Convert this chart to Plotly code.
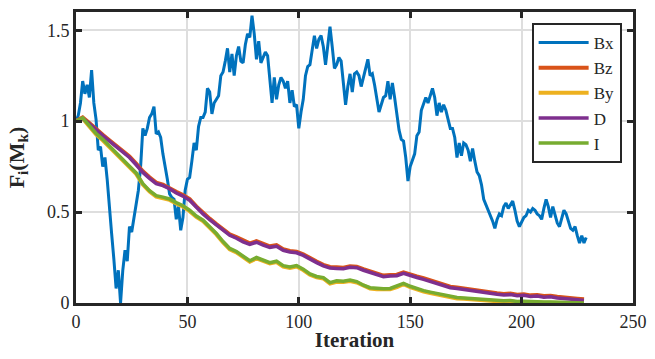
import plotly.graph_objects as go

# Bx, one value per iteration 0..229
it_bx = list(range(230))
bx = [1.00, 1.03, 1.10, 1.22, 1.15, 1.20, 1.13, 1.28, 1.10, 1.01,
      0.84, 0.86, 0.75, 0.80, 0.68, 0.55, 0.38, 0.24, 0.08, 0.18,
      0.00, 0.18, 0.29, 0.23, 0.42, 0.39, 0.47, 0.53, 0.62, 0.75,
      0.96, 0.92, 0.96, 1.02, 1.04, 1.08, 0.93, 0.94, 0.91, 0.82,
      0.76, 0.68, 0.60, 0.58, 0.57, 0.46, 0.53, 0.40, 0.47, 0.62,
      0.68, 0.69, 0.78, 0.88, 0.84, 0.97, 1.02, 1.02, 1.05, 1.18,
      1.16, 1.04, 1.10, 1.12, 1.14, 1.25, 1.27, 1.33, 1.40, 1.27,
      1.37, 1.25, 1.36, 1.41, 1.33, 1.32, 1.42, 1.48, 1.46, 1.58,
      1.48, 1.34, 1.44, 1.32, 1.35, 1.38, 1.36, 1.21, 1.10, 1.24,
      1.12, 1.20, 1.24, 1.22, 1.18, 1.22, 1.10, 1.17, 1.08, 1.09,
      0.96, 1.05, 1.12, 1.25, 1.30, 1.31, 1.39, 1.47, 1.40, 1.45,
      1.47, 1.41, 1.31, 1.43, 1.52, 1.41, 1.29, 1.31, 1.35, 1.33,
      1.20, 1.09, 1.19, 1.26, 1.16, 1.26, 1.27, 1.25, 1.19, 1.24,
      1.30, 1.34, 1.25, 1.26, 1.20, 1.12, 1.05, 1.09, 1.13, 1.14,
      1.22, 1.12, 1.21, 1.13, 1.04, 0.95, 0.90, 0.89, 0.80, 0.67,
      0.75, 0.79, 0.82, 0.92, 0.94, 1.06, 1.10, 1.13, 1.10, 1.14,
      1.18, 1.13, 1.03, 1.10, 1.05, 1.09, 1.06, 1.01, 0.96, 0.96,
      0.91, 0.80, 0.88, 0.81, 0.88, 0.87, 0.84, 0.78, 0.85, 0.78,
      0.72, 0.70, 0.65, 0.57, 0.54, 0.52, 0.49, 0.45, 0.41, 0.46,
      0.49, 0.48, 0.53, 0.55, 0.52, 0.54, 0.56, 0.51, 0.45, 0.42,
      0.45, 0.47, 0.48, 0.51, 0.50, 0.52, 0.51, 0.49, 0.48, 0.46,
      0.52, 0.57, 0.53, 0.47, 0.53, 0.49, 0.44, 0.42, 0.47, 0.51,
      0.49, 0.45, 0.41, 0.40, 0.42, 0.37, 0.33, 0.37, 0.33, 0.36]

# smooth series, every 3rd iteration
it_s = list(range(0, 229, 3))
d = [1.000, 1.015, 0.985, 0.950, 0.920, 0.890, 0.862, 0.830, 0.800, 0.760,
     0.718, 0.685, 0.656, 0.645, 0.628, 0.605, 0.588, 0.565, 0.525, 0.490,
     0.458, 0.428, 0.398, 0.372, 0.356, 0.336, 0.322, 0.334, 0.318, 0.306,
     0.312, 0.290, 0.280, 0.276, 0.262, 0.240, 0.222, 0.204, 0.192, 0.190,
     0.188, 0.196, 0.194, 0.180, 0.168, 0.152, 0.145, 0.148, 0.150, 0.163,
     0.150, 0.140, 0.130, 0.118, 0.108, 0.096, 0.084, 0.080, 0.074, 0.070,
     0.064, 0.056, 0.052, 0.048, 0.044, 0.046, 0.040, 0.042, 0.036, 0.038,
     0.032, 0.034, 0.028, 0.026, 0.022, 0.018, 0.014]
bz = [1.000, 1.020, 0.990, 0.955, 0.925, 0.895, 0.867, 0.836, 0.806, 0.766,
      0.724, 0.691, 0.662, 0.651, 0.634, 0.611, 0.594, 0.571, 0.531, 0.496,
      0.464, 0.434, 0.404, 0.378, 0.362, 0.342, 0.328, 0.340, 0.324, 0.312,
      0.318, 0.296, 0.286, 0.282, 0.268, 0.246, 0.228, 0.210, 0.198, 0.196,
      0.194, 0.202, 0.200, 0.186, 0.174, 0.158, 0.151, 0.154, 0.156, 0.169,
      0.156, 0.146, 0.136, 0.124, 0.114, 0.102, 0.090, 0.086, 0.080, 0.076,
      0.070, 0.062, 0.058, 0.054, 0.050, 0.052, 0.046, 0.048, 0.042, 0.044,
      0.038, 0.040, 0.034, 0.032, 0.028, 0.024, 0.020]
i_vals = [1.000, 1.018, 0.975, 0.932, 0.900, 0.862, 0.822, 0.785, 0.752, 0.715,
          0.656, 0.618, 0.590, 0.582, 0.572, 0.552, 0.535, 0.510, 0.478, 0.455,
          0.420, 0.382, 0.338, 0.300, 0.283, 0.258, 0.232, 0.250, 0.236, 0.222,
          0.230, 0.205, 0.198, 0.206, 0.186, 0.160, 0.146, 0.140, 0.112, 0.122,
          0.120, 0.126, 0.118, 0.098, 0.084, 0.080, 0.079, 0.080, 0.092, 0.108,
          0.092, 0.078, 0.068, 0.060, 0.052, 0.042, 0.034, 0.030, 0.028, 0.025,
          0.022, 0.018, 0.016, 0.014, 0.012, 0.014, 0.008, 0.010, 0.007, 0.008,
          0.005, 0.006, 0.004, 0.004, 0.002, 0.002, 0.000]
by = [1.000, 1.014, 0.970, 0.927, 0.895, 0.857, 0.817, 0.780, 0.747, 0.710,
      0.651, 0.613, 0.585, 0.577, 0.567, 0.547, 0.530, 0.505, 0.473, 0.450,
      0.415, 0.377, 0.333, 0.295, 0.278, 0.253, 0.227, 0.245, 0.231, 0.217,
      0.225, 0.200, 0.193, 0.201, 0.181, 0.155, 0.141, 0.135, 0.107, 0.117,
      0.115, 0.121, 0.113, 0.093, 0.079, 0.075, 0.074, 0.075, 0.087, 0.103,
      0.087, 0.073, 0.063, 0.055, 0.047, 0.037, 0.029, 0.025, 0.023, 0.020,
      0.017, 0.013, 0.011, 0.009, 0.007, 0.009, 0.004, 0.006, 0.003, 0.004,
      0.001, 0.002, 0.000, 0.000, 0.000, 0.000, 0.000]

serif = "Liberation Serif"

fig = go.Figure()
fig.add_trace(go.Scatter(x=it_bx, y=bx, name='Bx', mode='lines', line=dict(color='#0072BD', width=3)))
fig.add_trace(go.Scatter(x=it_s, y=bz, name='Bz', mode='lines', line=dict(color='#D95319', width=4)))
fig.add_trace(go.Scatter(x=it_s, y=by, name='By', mode='lines', line=dict(color='#EDB120', width=4)))
fig.add_trace(go.Scatter(x=it_s, y=d, name='D', mode='lines', line=dict(color='#7E2F8E', width=3.5)))
fig.add_trace(go.Scatter(x=it_s, y=i_vals, name='I', mode='lines', line=dict(color='#77AC30', width=3.5)))

axis_style = dict(
    showline=True, linecolor='#262626', linewidth=3, mirror='ticks',
    ticks='inside', ticklen=6, tickwidth=3, tickcolor='#262626',
    showgrid=True, gridcolor='#dedede', gridwidth=2, zeroline=False,
    automargin=False,
    tickfont=dict(family=serif, size=18, color='#262626'),
)

fig.update_layout(
    width=655, height=359,
    margin=dict(l=76, r=22, t=12, b=56),
    plot_bgcolor='white', paper_bgcolor='white',
    font=dict(family=serif, color='#262626'),
    showlegend=True,
    legend=dict(x=0.818, y=0.962, xanchor='left', yanchor='top',
                bgcolor='white', bordercolor='#262626', borderwidth=2,
                font=dict(family=serif, size=17, color='#262626'),
                itemwidth=50, tracegroupgap=0),
    xaxis=dict(range=[0, 250], tickvals=[0, 50, 100, 150, 200, 250],
               title=dict(text='<b>Iteration</b>', standoff=2,
                          font=dict(family=serif, size=21, color='#262626')),
               **axis_style),
    yaxis=dict(range=[0, 1.6], tickvals=[0, 0.5, 1, 1.5],
               title=dict(text='<b>F<sub>i</sub>(M<sub>k</sub>)</b>', standoff=17,
                          font=dict(family=serif, size=22, color='#262626')),
               **axis_style),
)

# drop the default page margin so the figure sits at the window's top-left
fig.write_html("out.html", config={'displayModeBar': False},
               post_script="document.body.style.margin='0';")
